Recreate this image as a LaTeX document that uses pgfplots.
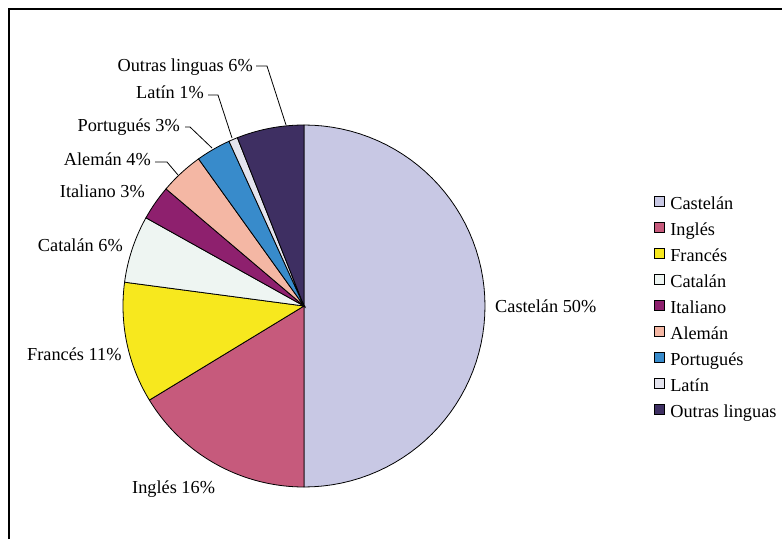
\documentclass[border=0pt]{standalone}
\usepackage{pgfplots}
\pgfplotsset{compat=1.18}
\usepackage{fontspec}
\setmainfont{Liberation Serif}
\definecolor{cCas}{HTML}{C8C8E4}
\definecolor{cIng}{HTML}{C65A7C}
\definecolor{cFra}{HTML}{F7E81E}
\definecolor{cCat}{HTML}{EEF5F2}
\definecolor{cIta}{HTML}{8E206E}
\definecolor{cAle}{HTML}{F4B7A4}
\definecolor{cPor}{HTML}{388BCB}
\definecolor{cLat}{HTML}{E4E4EE}
\definecolor{cOut}{HTML}{3E2F62}
% shares (per cent)
\def\pCas{50}
\def\pIng{16.3}
\def\pFra{10.8}
\def\pCat{6.0}
\def\pIta{3.1}
\def\pAle{3.9}
\def\pPor{3.1}
\def\pLat{0.8}
\def\pOut{6.0}
\pgfmathsetmacro\aA{90}
\pgfmathsetmacro\aB{\aA-3.6*\pCas}
\pgfmathsetmacro\aC{\aB-3.6*\pIng}
\pgfmathsetmacro\aD{\aC-3.6*\pFra}
\pgfmathsetmacro\aE{\aD-3.6*\pCat}
\pgfmathsetmacro\aF{\aE-3.6*\pIta}
\pgfmathsetmacro\aG{\aF-3.6*\pAle}
\pgfmathsetmacro\aH{\aG-3.6*\pPor}
\pgfmathsetmacro\aI{\aH-3.6*\pLat}
\pgfmathsetmacro\aJ{\aI-3.6*\pOut}
\newcommand\lblfont{\fontsize{18.3}{21}\selectfont}
\begin{document}
\begin{tikzpicture}
\useasboundingbox (0,0) rectangle (782pt,539pt);
\begin{axis}[
  width=782pt, height=539pt, scale only axis,
  xmin=0, xmax=782, ymin=0, ymax=539,
  hide axis, clip=false,
  legend cell align=left,
  legend image code/.code={\draw[#1] (0pt,0pt) rectangle (10pt,10pt);},
  legend style={at={(axis cs:654,343.5)}, anchor=north west, draw=none, fill=none,
    inner sep=0pt, outer sep=0pt, row sep=7.6pt, column sep=5.5pt,
    font=\lblfont,
    nodes={inner sep=0pt, outer sep=0pt, text height=12pt, text depth=4pt}},
  slice/.style={draw=black, line width=0.8pt, samples=61},
]
\addplot[slice, fill=cCas, domain=\aB:\aA] ({304+181*cos(x)},{233+181*sin(x)}) -- (axis cs:304,233) -- cycle;
\addlegendentry{Castelán}
\addplot[slice, fill=cIng, domain=\aC:\aB] ({304+181*cos(x)},{233+181*sin(x)}) -- (axis cs:304,233) -- cycle;
\addlegendentry{Inglés}
\addplot[slice, fill=cFra, domain=\aD:\aC] ({304+181*cos(x)},{233+181*sin(x)}) -- (axis cs:304,233) -- cycle;
\addlegendentry{Francés}
\addplot[slice, fill=cCat, domain=\aE:\aD] ({304+181*cos(x)},{233+181*sin(x)}) -- (axis cs:304,233) -- cycle;
\addlegendentry{Catalán}
\addplot[slice, fill=cIta, domain=\aF:\aE] ({304+181*cos(x)},{233+181*sin(x)}) -- (axis cs:304,233) -- cycle;
\addlegendentry{Italiano}
\addplot[slice, fill=cAle, domain=\aG:\aF] ({304+181*cos(x)},{233+181*sin(x)}) -- (axis cs:304,233) -- cycle;
\addlegendentry{Alemán}
\addplot[slice, fill=cPor, domain=\aH:\aG] ({304+181*cos(x)},{233+181*sin(x)}) -- (axis cs:304,233) -- cycle;
\addlegendentry{Portugués}
\addplot[slice, fill=cLat, domain=\aI:\aH] ({304+181*cos(x)},{233+181*sin(x)}) -- (axis cs:304,233) -- cycle;
\addlegendentry{Latín}
\addplot[slice, fill=cOut, domain=\aJ:\aI] ({304+181*cos(x)},{233+181*sin(x)}) -- (axis cs:304,233) -- cycle;
\addlegendentry{Outras linguas}
% frame
\draw[line width=1.5pt] (axis cs:9,0) -- (axis cs:9,530) -- (axis cs:782,530);
% labels
\begin{scope}[every node/.style={inner sep=0pt, font=\lblfont}]
\node[anchor=base east] at (axis cs:253,467) {Outras linguas 6\%};
\node[anchor=base east] at (axis cs:204,440) {Latín 1\%};
\node[anchor=base east] at (axis cs:180,407) {Portugués 3\%};
\node[anchor=base east] at (axis cs:151,373) {Alemán 4\%};
\node[anchor=base east] at (axis cs:145,341) {Italiano 3\%};
\node[anchor=base east] at (axis cs:123,287) {Catalán 6\%};
\node[anchor=base west] at (axis cs:27,179) {Francés 11\%};
\node[anchor=base west] at (axis cs:132,46) {Inglés 16\%};
\node[anchor=base west] at (axis cs:495,226) {Castelán 50\%};
\end{scope}
% leader lines
\draw[line width=0.8pt] (axis cs:256,473) -- (axis cs:267,473) -- (axis cs:286,414);
\draw[line width=0.8pt] (axis cs:208,444) -- (axis cs:218,444) -- (axis cs:232,401);
\draw[line width=0.8pt] (axis cs:185,412) -- (axis cs:190,412) -- (axis cs:212,391);
\draw[line width=0.8pt] (axis cs:155,377) -- (axis cs:167,377) -- (axis cs:178,364);
\end{axis}
\end{tikzpicture}
\end{document}
